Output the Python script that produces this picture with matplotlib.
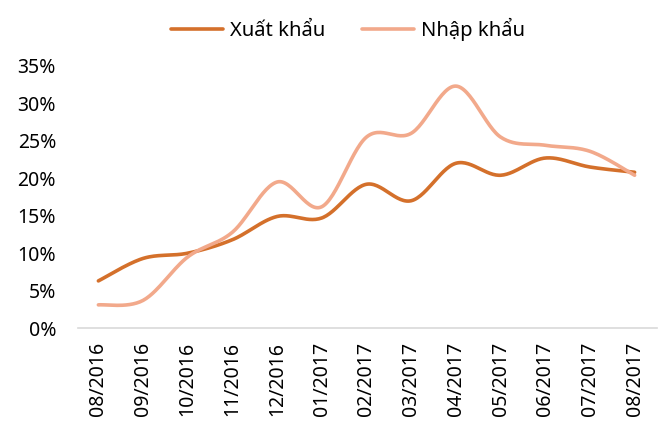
import numpy as np
import matplotlib
matplotlib.use("Agg")
import matplotlib.pyplot as plt

plt.rcParams['font.family'] = ['Noto Sans', 'DejaVu Sans']

months = ["08/2016", "09/2016", "10/2016", "11/2016", "12/2016", "01/2017",
          "02/2017", "03/2017", "04/2017", "05/2017", "06/2017", "07/2017", "08/2017"]
xuat_khau = [6.3, 9.3, 10.0, 11.8, 14.9, 14.7, 19.2, 17.0, 22.0, 20.4, 22.7, 21.5, 20.8]
nhap_khau = [3.1, 3.7, 9.5, 12.8, 19.5, 16.2, 25.5, 26.0, 32.3, 25.5, 24.4, 23.6, 20.4]


def smooth(y, n=30):
    # catmull-rom style smoothing like excel's smoothed line
    y = np.asarray(y, float) / 100
    x = np.arange(len(y), dtype=float)
    px = np.concatenate([[x[0]], x, [x[-1]]])
    py = np.concatenate([[y[0]], y, [y[-1]]])
    xs, ys = [], []
    for i in range(1, len(px) - 2):
        p0, p1, p2, p3 = (np.array([px[j], py[j]]) for j in (i - 1, i, i + 1, i + 2))
        c1 = p1 + (p2 - p0) / 6
        c2 = p2 - (p3 - p1) / 6
        t = np.linspace(0, 1, n)[:, None]
        b = (1 - t) ** 3 * p1 + 3 * (1 - t) ** 2 * t * c1 + 3 * (1 - t) * t ** 2 * c2 + t ** 3 * p2
        xs.extend(b[:, 0]); ys.extend(b[:, 1])
    return np.array(xs), np.array(ys)


fig = plt.figure(figsize=(6.69, 4.25), dpi=100)
ax = fig.add_axes([0.117, 0.228, 0.865, 0.617])

for vals, col, lab in [(xuat_khau, "#D4702B", "Xuất khẩu"), (nhap_khau, "#F2A98B", "Nhập khẩu")]:
    sx, sy = smooth(vals)
    ax.plot(sx, sy, color=col, lw=2.6, label=lab, solid_capstyle='round')

ax.set_ylim(0, 0.35)
ax.set_xlim(-0.45, 12.5)
ax.set_yticks(np.arange(0, 0.36, 0.05))
ax.set_yticklabels([f"{int(round(v * 100))}%" for v in np.arange(0, 0.36, 0.05)], fontsize=14)
ax.set_xticks(range(len(months)))
ax.set_xticklabels(months, rotation=90, fontsize=14)
ax.tick_params(axis='x', length=0, pad=10)
ax.tick_params(axis='y', length=0, pad=16)
for s in ['top', 'right', 'left']:
    ax.spines[s].set_visible(False)
ax.spines['bottom'].set_color('#D9D9D9')
ax.spines['bottom'].set_linewidth(1.2)

fig.legend(loc='upper center', bbox_to_anchor=(0.52, 1.0), ncol=2, frameon=False,
           fontsize=14.5, handlelength=2.6, columnspacing=1.8, handletextpad=0.35)

fig.savefig("out.png", dpi=100)
